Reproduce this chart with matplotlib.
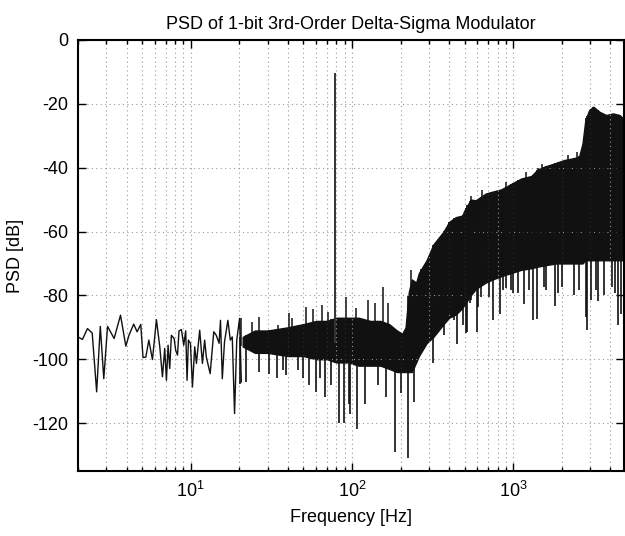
import numpy as np
import matplotlib
matplotlib.use('Agg')
import matplotlib.pyplot as plt
from matplotlib.ticker import LogLocator, NullFormatter

plt.rcParams['font.family'] = ['Liberation Sans', 'DejaVu Sans']
plt.rcParams['axes.unicode_minus'] = False

# ---- resolved low-frequency bins (Hz, dB) ----
low_freq = [2.00, 2.13, 2.29, 2.45, 2.61, 2.75, 2.89, 3.05, 3.35, 3.67, 3.96, 4.14,
            4.43, 4.65, 4.90, 5.06, 5.27, 5.50, 5.79, 6.13, 6.43, 6.68, 6.90, 7.07,
            7.24, 7.41, 7.59, 7.89, 8.07, 8.28, 8.46, 8.76, 9.05, 9.31, 9.49, 9.68,
            9.96, 10.25, 10.59, 10.85, 11.37, 11.82, 12.2, 12.5, 13.2, 13.9, 14.4,
            15.0, 15.3, 15.7, 16.2, 17.0, 17.6, 18.1, 18.7, 19.3, 20.1, 20.6]
low_psd = [-93.0, -93.8, -90.4, -91.8, -110.2, -89.7, -106.1, -89.7, -93.5, -86.2,
           -95.9, -92.5, -89.0, -91.4, -89.1, -99.5, -99.3, -94.0, -100.1, -87.6,
           -96.1, -105.5, -96.6, -106.6, -95.6, -102.9, -92.5, -93.5, -97.2, -98.7,
           -91.1, -90.7, -95.6, -91.1, -106.6, -94.0, -95.0, -108.7, -96.1, -101.3,
           -90.9, -101.3, -94.0, -99.3, -104.5, -91.4, -92.5, -95.0, -87.8, -106.1,
           -94.6, -87.8, -94.0, -93.0, -117.0, -94.0, -87.2, -107.1]

# ---- dense noise region: envelope of the solid band (Hz, dB) ----
band_freq = [21, 25, 30, 40, 50, 60, 70, 80, 95, 110, 130, 150, 170, 190, 205, 215,
             225, 235, 250, 260, 290, 320, 370, 400, 440, 483, 497, 545, 586, 675,
             745, 842, 970, 1120, 1295, 1420, 1600, 1845, 2070, 2330, 2560, 2690,
             2800, 2960, 3140, 3430, 3770, 4150, 4560, 4900]
band_top = [-93, -91, -91, -90, -89, -88, -88, -87, -87, -87, -88, -88, -89, -91, -92,
            -90, -79, -75, -76, -73, -69, -64, -60, -57, -55.5, -55, -53.5, -50, -50.2,
            -48.1, -47.5, -46.8, -45.1, -43.4, -42.6, -40.5, -39.5, -38.5, -37.6,
            -37.1, -36.6, -32.4, -25.1, -21.9, -20.9, -22.5, -23.5, -23, -23.5, -25]
band_bot = [-96, -98, -98, -99, -99, -100, -100, -101, -101, -102, -102, -102, -103,
            -104, -104, -104, -104, -104, -101, -99, -95, -93, -89, -87, -86, -84, -83,
            -80, -78, -76, -75, -74, -73, -72, -71.5, -71, -70.5, -70, -70, -70, -70,
            -70, -69, -69, -69, -69, -69, -69, -69, -69]

# ---- isolated upward excursions (Hz, dB) ----
up_freq = [20.6, 24.1, 26.7, 34.7, 40.6, 42.6, 51.9, 57.7, 65.1, 70.9, 92.2, 106,
           125, 138, 155.5, 167, 232, 545, 640, 900, 1200, 1420, 1500, 2200, 2500, 3110]
up_psd = [-87.2, -88.3, -86.7, -89.3, -85.5, -87.2, -83.6, -84.4, -83.1, -85.2, -80.5,
          -83.8, -81.5, -82.5, -77.3, -82.5, -72, -48.9, -47, -44.5, -41.5, -40, -39,
          -36, -35, -20.9]

# ---- isolated downward excursions (Hz, dB) ----
down_freq = [20.1, 22.0, 26.7, 30.8, 34.2, 37.2, 39.1, 46.2, 49.4, 53.9, 60.0, 63.8,
             67.7, 74.5, 83, 88.7, 95.5, 97, 107.8, 120.7, 144.5, 163, 186, 202, 224,
             244, 268, 319, 372, 402, 432, 450, 486, 509, 520, 537, 547, 593, 605,
             631, 708, 745, 828, 860, 901, 968, 997, 1064, 1170, 1245, 1318, 1403,
             1556, 1592, 1828, 1883, 2019, 2390, 2565, 2840, 2870, 3030, 3270, 3340,
             3656, 4120, 4250, 4490, 4650]
down_psd = [-107.6, -107.1, -104, -104.5, -106, -103.4, -105, -103.4, -106, -108.2,
            -110.2, -106, -111.8, -108.2, -120, -120, -113.9, -117, -121.7, -113.9,
            -108.2, -111.8, -129, -110.7, -131, -113.4, -98.2, -101.3, -92.5, -85.7,
            -87.8, -95.1, -89.3, -91.9, -91.4, -82.5, -81.5, -91.4, -83.6, -80.5,
            -80.5, -87.8, -85.7, -78.4, -77.8, -78.4, -79.4, -79.4, -82.8, -78.4,
            -87.8, -87.3, -77.3, -78.4, -83.4, -79.4, -77.3, -80, -78.4, -86.7, -90.9,
            -81.5, -78.4, -81.7, -79.9, -77.3, -79.4, -89.3, -85.7]

# ---- signal tone ----
tone_freq = 78.0
tone_psd = -10.2

fig = plt.figure(figsize=(6.25, 5.36), dpi=100)
ax = fig.add_axes([0.1248, 0.1213, 0.8735, 0.8041])

lc = '#111111'
lw = 1.0
ax.plot(low_freq, low_psd, color=lc, lw=lw)
ax.fill_between(band_freq, band_bot, band_top, color=lc, lw=lw, edgecolor=lc)

lbf = np.log10(band_freq)
up_base = np.interp(np.log10(up_freq), lbf, band_bot)
ax.vlines(up_freq, up_base, up_psd, color=lc, lw=1.1)
down_base = np.interp(np.log10(down_freq), lbf, band_top)
ax.vlines(down_freq, down_psd, down_base, color=lc, lw=1.2)
ax.vlines([tone_freq], -95, tone_psd, color='#333333', lw=1.4)

ax.set_xscale('log')
ax.set_xlim(2, 4860)
ax.set_ylim(-135, 0)
ax.set_yticks([0, -20, -40, -60, -80, -100, -120])
ax.xaxis.set_major_locator(LogLocator(base=10, numticks=10))
ax.xaxis.set_minor_locator(LogLocator(base=10, subs=np.arange(2, 10), numticks=20))
ax.xaxis.set_minor_formatter(NullFormatter())

ax.grid(True, which='major', axis='both', color='#999999', linestyle=(0, (1, 3)), lw=0.8)
ax.grid(True, which='minor', axis='x', color='#999999', linestyle=(0, (1, 3)), lw=0.8)

ax.tick_params(which='both', direction='in', top=True, right=True, labelsize=13,
               width=1.0)
ax.tick_params(which='major', length=6, pad=7)
ax.tick_params(which='minor', length=3)
for s in ax.spines.values():
    s.set_linewidth(1.5)

ax.set_title('PSD of 1-bit 3rd-Order Delta-Sigma Modulator', fontsize=13, pad=8)
ax.set_xlabel('Frequency [Hz]', fontsize=13, labelpad=6)
ax.set_ylabel('PSD [dB]', fontsize=13, labelpad=6)

fig.savefig('out.png', dpi=100)
